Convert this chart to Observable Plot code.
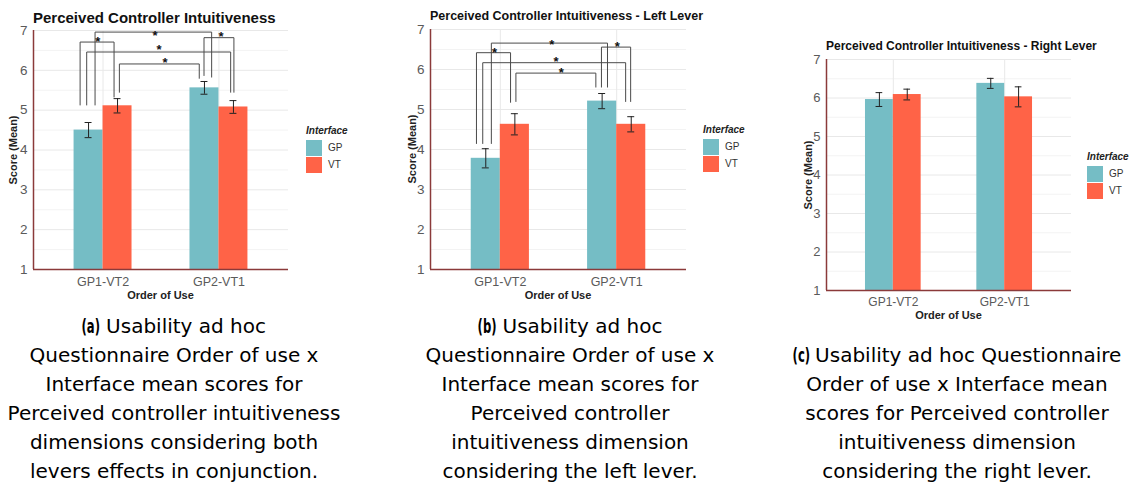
<!DOCTYPE html>
<html>
<head>
<meta charset="utf-8">
<script src="https://cdn.jsdelivr.net/npm/d3@7"></script>
<script src="https://cdn.jsdelivr.net/npm/@observablehq/plot@0.6"></script>
<style>
  html, body { margin: 0; padding: 0; background: #fff; }
  #root { position: relative; width: 1140px; height: 500px; overflow: hidden; background: #fff;
          font-family: "Liberation Sans", Arial, sans-serif; }
  .abs { position: absolute; white-space: nowrap; }
  .ptitle { font-weight: bold; color: #111; transform: translateY(-50%); line-height: 1; }
  .axtitle { font-weight: bold; font-size: 11px; color: #222; line-height: 1; }
  .xlab { transform: translate(-50%, -50%); }
  .ylab { transform: translate(-50%, -50%) rotate(-90deg); }
  .legtitle { font-weight: bold; font-style: italic; font-size: 10px; color: #222; transform: translateY(-50%); line-height: 1; }
  .key { width: 16px; height: 16px; }
  .keylab { font-size: 10px; color: #333; transform: translateY(-50%); line-height: 1; }
  .caption { position: absolute; font-family: "DejaVu Sans", Verdana, sans-serif; font-size: 20px;
             line-height: 29px; text-align: center; color: #000; transform: translateX(-50%); white-space: nowrap; }
  .caption b { display: inline-block; font-weight: bold; transform: scaleX(0.58); transform-origin: 0 50%;
               margin-right: -14px; }
</style>
</head>
<body>
<div id="root"></div>
<script>
// ---------- data ----------
const orders = ["GP1-VT2", "GP2-VT1"];
const interfaces = ["GP", "VT"];
const interfaceColors = ["#75bdc5", "#ff6347"];
const yTicks = [1, 2, 3, 4, 5, 6, 7];
const yMinor = [1.5, 2.5, 3.5, 4.5, 5.5, 6.5];

// (a) both levers
const meanA_GP = [4.50, 5.56];
const meanA_VT = [5.11, 5.08];
const errA_GP = [0.19, 0.16];
const errA_VT = [0.18, 0.16];
const bracketA_x1 = [0.931, 0.802, 0.859, 1.141, 1.871];
const bracketA_x2 = [1.937, 1.095, 2.101, 1.830, 2.129];
const bracketA_top = [6.96, 6.71, 6.46, 6.16, 6.82];
const bracketA_end1 = [5.13, 5.13, 5.13, 5.45, 5.87];
const bracketA_end2 = [5.83, 5.33, 5.45, 5.80, 5.45];
const bracketA_starX = [1.448, 0.954, 1.483, 1.534, 2.017];
const bracketA_starY = [6.94, 6.79, 6.58, 6.26, 6.92];
const bracketA_label = ["*", "*", "*", "*", "*"];

// (b) left lever
const meanB_GP = [3.78, 5.21];
const meanB_VT = [4.63, 4.63];
const errB_GP = [0.24, 0.19];
const errB_VT = [0.265, 0.19];
const bracketB_x1 = [0.923, 0.795, 0.849, 1.134, 1.869];
const bracketB_x2 = [1.921, 1.088, 2.077, 1.821, 2.120];
const bracketB_top = [6.66, 6.42, 6.17, 5.91, 6.56];
const bracketB_end1 = [4.15, 4.15, 4.15, 5.20, 5.56];
const bracketB_end2 = [5.56, 5.18, 5.20, 5.56, 5.20];
const bracketB_starX = [1.442, 0.951, 1.479, 1.524, 2.006];
const bracketB_starY = [6.68, 6.50, 6.27, 6.00, 6.64];
const bracketB_label = ["*", "*", "*", "*", "*"];

// (c) right lever
const meanC_GP = [5.96, 6.38];
const meanC_VT = [6.09, 6.03];
const errC_GP = [0.18, 0.13];
const errC_VT = [0.14, 0.26];

const titles = [
  "Perceived Controller Intuitiveness",
  "Perceived Controller Intuitiveness - Left Lever",
  "Perceived Controller Intuitiveness - Right Lever"
];
const xTitle = "Order of Use";
const yTitle = "Score (Mean)";
const legendTitle = "Interface";
const captions = [
  ["<b>(a)</b> Usability ad hoc", "Questionnaire Order of use x", "Interface mean scores for",
   "Perceived controller intuitiveness", "dimensions considering both", "levers effects in conjunction."],
  ["<b>(b)</b> Usability ad hoc", "Questionnaire Order of use x", "Interface mean scores for",
   "Perceived controller", "intuitiveness dimension", "considering the left lever."],
  ["<b>(c)</b> Usability ad hoc Questionnaire", "Order of use x Interface mean", "scores for Perceived controller",
   "intuitiveness dimension", "considering the right lever."]
];

// ---------- helpers ----------
const root = document.getElementById("root");
const DODGE = 0.25, CAP = 0.03;

function barsOf(gp, vt, egp, evt) {
  const out = [];
  orders.forEach((o, i) => {
    out.push({g: i + 1, iface: "GP", mean: gp[i], lo: gp[i] - egp[i], hi: gp[i] + egp[i]});
    out.push({g: i + 1, iface: "VT", mean: vt[i], lo: vt[i] - evt[i], hi: vt[i] + evt[i]});
  });
  out.forEach(d => {
    d.x1 = d.iface === "GP" ? d.g - DODGE : d.g;
    d.x2 = d.iface === "GP" ? d.g : d.g + DODGE;
    d.cx = (d.x1 + d.x2) / 2;
  });
  return out;
}
function bracketsOf(x1, x2, top, e1, e2, sx, sy, lab) {
  const pts = [], labels = [];
  x1.forEach((_, i) => {
    pts.push({id: i, x: x1[i], y: e1[i]}, {id: i, x: x1[i], y: top[i]},
             {id: i, x: x2[i], y: top[i]}, {id: i, x: x2[i], y: e2[i]});
    labels.push({x: sx[i], y: sy[i], t: lab[i]});
  });
  return {pts, labels};
}

function addDiv(cls, html, style) {
  const d = document.createElement("div");
  d.className = "abs " + cls;
  d.innerHTML = html;
  Object.assign(d.style, style);
  root.appendChild(d);
  return d;
}

function panel(cfg) {
  const bars = barsOf(...cfg.bars);
  const br = cfg.brackets ? bracketsOf(...cfg.brackets) : null;
  const marks = [
    Plot.gridY(yMinor, {stroke: "#f3f3f3", strokeOpacity: 1}),
    Plot.gridY(yTicks, {stroke: "#e8e8e8", strokeOpacity: 1}),
    Plot.gridX([1, 2], {stroke: "#e8e8e8", strokeOpacity: 1}),
    Plot.rect(bars, {x1: "x1", x2: "x2", y1: () => 1, y2: "mean", fill: "iface"}),
    Plot.ruleX(bars, {x: "cx", y1: "lo", y2: "hi", stroke: "#222", strokeWidth: 1}),
    Plot.ruleY(bars, {y: "hi", x1: d => d.cx - CAP, x2: d => d.cx + CAP, stroke: "#222", strokeWidth: 1}),
    Plot.ruleY(bars, {y: "lo", x1: d => d.cx - CAP, x2: d => d.cx + CAP, stroke: "#222", strokeWidth: 1}),
  ];
  if (br) {
    marks.push(Plot.line(br.pts, {x: "x", y: "y", z: "id", stroke: "#4a4a4a", strokeWidth: 1}));
    marks.push(Plot.text(br.labels, {x: "x", y: "y", text: "t", fontSize: 13, fill: "#111",
                                     fontWeight: "bold", dy: 3}));
  }
  marks.push(
    Plot.ruleY([1], {stroke: "#8b3a3a", strokeWidth: 1.5}),
    Plot.ruleX([0.4], {stroke: "#8b3a3a", strokeWidth: 1.5}),
    Plot.axisX([1, 2], {tickFormat: i => orders[i - 1], tickSize: 0, tickPadding: cfg.xPad,
                        fontSize: cfg.xFont, fill: "#5a5a5a", label: null}),
    Plot.axisY(yTicks, {tickSize: 0, tickPadding: 6, fontSize: cfg.yFont, fill: "#5a5a5a", label: null})
  );
  const chart = Plot.plot({
    width: cfg.w, height: cfg.h,
    marginLeft: cfg.ml, marginRight: cfg.mr, marginTop: cfg.mt, marginBottom: cfg.mb,
    style: {fontFamily: "'Liberation Sans', Arial, sans-serif", background: "transparent", overflow: "visible"},
    x: {type: "linear", domain: [0.4, 2.6]},
    y: {domain: [1, 7]},
    color: {domain: interfaces, range: interfaceColors},
    marks
  });
  chart.style.position = "absolute";
  chart.style.left = cfg.left + "px";
  chart.style.top = cfg.top + "px";
  root.appendChild(chart);

  const fl = cfg.left + cfg.ml, fr = cfg.left + cfg.w - cfg.mr;
  const ft = cfg.top + cfg.mt, fb = cfg.top + cfg.h - cfg.mb;
  addDiv("ptitle", cfg.title, {left: fl + "px", top: cfg.titleY + "px", fontSize: cfg.titleFont + "px"});
  addDiv("axtitle xlab", xTitle, {left: ((fl + fr) / 2) + "px", top: cfg.xTitleY + "px"});
  addDiv("axtitle ylab", yTitle, {left: cfg.yTitleX + "px", top: ((ft + fb) / 2) + "px"});
  addDiv("legtitle", legendTitle, {left: cfg.legX + "px", top: cfg.legY + "px"});
  interfaces.forEach((name, i) => {
    addDiv("key", "", {left: cfg.legX + "px", top: (cfg.legY + 9 + i * 17) + "px", background: interfaceColors[i]});
    addDiv("keylab", name, {left: (cfg.legX + 22) + "px", top: (cfg.legY + 17 + i * 17) + "px"});
  });
}

panel({
  bars: [meanA_GP, meanA_VT, errA_GP, errA_VT],
  brackets: [bracketA_x1, bracketA_x2, bracketA_top, bracketA_end1, bracketA_end2,
             bracketA_starX, bracketA_starY, bracketA_label],
  left: 0, top: 0, w: 300, h: 305, ml: 33, mr: 12, mt: 30, mb: 36,
  xPad: 8, xFont: 12.5, yFont: 13.5,
  title: titles[0], titleY: 17, titleFont: 15,
  xTitleY: 295, yTitleX: 13, legX: 306, legY: 131
});
panel({
  bars: [meanB_GP, meanB_VT, errB_GP, errB_VT],
  brackets: [bracketB_x1, bracketB_x2, bracketB_top, bracketB_end1, bracketB_end2,
             bracketB_starX, bracketB_starY, bracketB_label],
  left: 390, top: 0, w: 310, h: 305, ml: 40, mr: 14, mt: 29, mb: 36,
  xPad: 8, xFont: 12.5, yFont: 13.5,
  title: titles[1], titleY: 16, titleFont: 12.5,
  xTitleY: 295, yTitleX: 412, legX: 703, legY: 130
});
panel({
  bars: [meanC_GP, meanC_VT, errC_GP, errC_VT],
  left: 790, top: 30, w: 290, h: 300, ml: 36, mr: 9, mt: 29, mb: 40,
  xPad: 7, xFont: 12, yFont: 13,
  title: titles[2], titleY: 46, titleFont: 12,
  xTitleY: 315, yTitleX: 808, legX: 1087, legY: 157
});

// captions
const capCenters = [174, 570, 957];
const capTops = [312, 312, 341];
captions.forEach((lines, i) => {
  const d = document.createElement("div");
  d.className = "caption";
  d.style.left = capCenters[i] + "px";
  d.style.top = capTops[i] + "px";
  d.innerHTML = lines.join("<br>");
  root.appendChild(d);
});
</script>
</body>
</html>
